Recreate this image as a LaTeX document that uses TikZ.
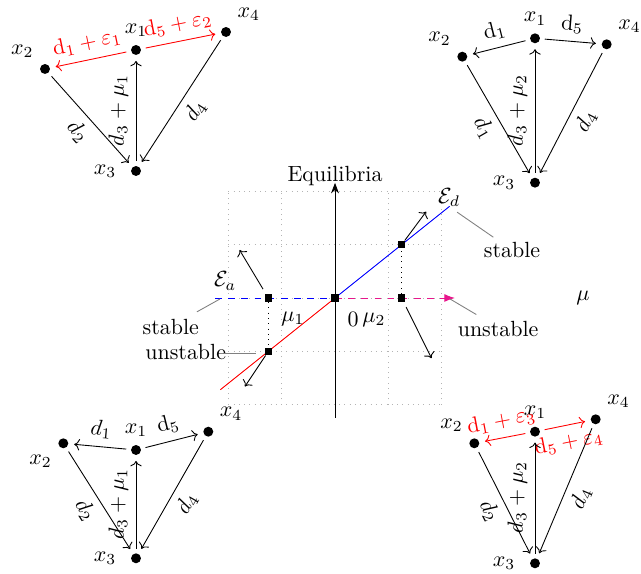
\documentclass[tikz,border=0pt]{standalone}
\usepackage{amsmath}
\usepackage{xcolor}
\usepackage{tikz}
\usetikzlibrary{arrows.meta}
\definecolor{pinkmag}{HTML}{E8168C}
\definecolor{gridgray}{HTML}{B4B4B4}
\definecolor{pingray}{HTML}{808080}

\begin{document}
\begin{tikzpicture}[x=1cm,y=1cm,
  dot/.style={circle,fill,inner sep=1.6pt},
  edge/.style={->,shorten >=2.5pt,shorten <=2pt},
  redge/.style={edge,red},
  sqmark/.style={rectangle,fill,inner sep=0pt,minimum size=3.4pt},
  pinline/.style={pingray},
  gridline/.style={gridgray,dotted},
  xthree/.style={label={[label distance=3pt]left:$x_3$}}]
  \useasboundingbox (0,0) rectangle (10.256,9.184);
  % upper left network
  \node[dot,label=above:$x_1$] (tl1) at (2.176,8.384) {};
  \node[dot,label=above left:$x_2$] (tl2) at (0.72,8.08) {};
  \node[dot,xthree] (tl3) at (2.176,6.448) {};
  \node[dot,label=above right:$x_4$] (tl4) at (3.616,8.672) {};
  \draw[redge] (tl1) -- node[sloped,above] {$\mathrm{d}_1+\varepsilon_1$} (tl2);
  \draw[redge] (tl1) -- node[sloped,above] {$\mathrm{d}_5+\varepsilon_2$} (tl4);
  \draw[edge] (tl2) -- node[sloped,below] {$d_2$} (tl3);
  \draw[edge] (tl3) -- node[sloped,above] {$d_3+\mu_1$} (tl1);
  \draw[edge] (tl4) -- node[sloped,below] {$d_4$} (tl3);
  % upper right network
  \node[dot,label=above:$x_1$] (tr1) at (8.56,8.571) {};
  \node[dot,label=above left:$x_2$] (tr2) at (7.397,8.277) {};
  \node[dot,xthree] (tr3) at (8.56,6.261) {};
  \node[dot,label=above right:$x_4$] (tr4) at (9.707,8.475) {};
  \draw[edge] (tr1) -- node[sloped,above] {$\mathrm{d}_1$} (tr2);
  \draw[edge] (tr1) -- node[sloped,above] {$\mathrm{d}_5$} (tr4);
  \draw[edge] (tr2) -- node[sloped,below] {$d_1$} (tr3);
  \draw[edge] (tr3) -- node[sloped,above] {$d_3+\mu_2$} (tr1);
  \draw[edge] (tr4) -- node[sloped,below] {$d_4$} (tr3);
  % lower left network
  \node[dot,label=above:$x_1$] (bl1) at (2.176,1.984) {};
  \node[dot,label=below left:$x_2$] (bl2) at (1.013,2.091) {};
  \node[dot,xthree] (bl3) at (2.176,0.251) {};
  \node[dot,label=above right:$x_4$] (bl4) at (3.333,2.277) {};
  \draw[edge] (bl1) -- node[sloped,above] {$d_1$} (bl2);
  \draw[edge] (bl1) -- node[sloped,above] {$\mathrm{d}_5$} (bl4);
  \draw[edge] (bl2) -- node[sloped,below] {$d_2$} (bl3);
  \draw[edge] (bl3) -- node[sloped,above] {$d_3+\mu_1$} (bl1);
  \draw[edge] (bl4) -- node[sloped,below] {$d_4$} (bl3);
  % lower right network
  \node[dot,label=above:$x_1$] (br1) at (8.56,2.277) {};
  \node[dot,label=above left:$x_2$] (br2) at (7.589,2.091) {};
  \node[dot,xthree] (br3) at (8.56,0.171) {};
  \node[dot,label=above right:$x_4$] (br4) at (9.531,2.475) {};
  \draw[redge] (br1) -- node[sloped,above] {$\mathrm{d}_1+\varepsilon_3$} (br2);
  \draw[redge] (br1) -- node[sloped,below] {$\mathrm{d}_5+\varepsilon_4$} (br4);
  \draw[edge] (br2) -- node[sloped,below] {$d_2$} (br3);
  \draw[edge] (br3) -- node[sloped,above] {$d_3+\mu_2$} (br1);
  \draw[edge] (br4) -- node[sloped,below] {$d_4$} (br3);
  % bifurcation diagram
  \begin{scope}[shift={(5.36,4.416)},x=0.853cm,y=0.853cm]
    \foreach \g in {-2,...,2}{
      \draw[gridline] (\g,-2) -- (\g,2);
      \draw[gridline] (-2,\g) -- (2,\g);}
    \draw[-{Stealth}] (0,-2.25) -- (0,2.16);
    \node (eqlab) at (0,2.29) {Equilibria};
    \draw[blue,dashed] (-2.25,0) -- (0,0);
    \draw[pinkmag,dashed,-{Latex}] (0,0) -- (2.25,0);
    \draw[red] (-2.15,-1.72) -- (0,0);
    \draw[blue] (0,0) -- (2.15,1.72);
    \node[sqmark] (m0) at (0,0) {};
    \node[sqmark] (ma) at (-1.25,0) {};
    \node[sqmark] (mb) at (-1.25,-1) {};
    \node[sqmark] (mc) at (1.25,1) {};
    \node[sqmark] (md) at (1.25,0) {};
    \draw[dotted] (ma) -- (mb);
    \draw[dotted] (md) -- (mc);
    \coordinate (ta) at (-1.79,0.9);
    \coordinate (tb) at (-1.69,-1.66);
    \coordinate (tc) at (1.71,1.62);
    \coordinate (td) at (1.81,-1.13);
    \draw[->,shorten <=2.5pt] (ma) -- (ta);
    \draw[->] (mb) -- (tb);
    \draw[->] (mc) -- (tc);
    \draw[->,shorten <=2.5pt] (md) -- (td);
    \node (ea) at (-2.06,0.32) {$\mathcal{E}_a$};
    \node (ed) at (2.14,1.89) {$\mathcal{E}_d$};
    \node (stl) at (-3.08,-0.54) {stable};
    \node (ustl) at (-2.80,-1.01) {unstable};
    \node (str) at (3.32,0.90) {stable};
    \node (ustr) at (3.06,-0.58) {unstable};
    \node (mulab) at (4.65,0) {$\mu$};
    \node (mu1) at (-0.79,-0.39) {$\mu_1$};
    \node (zero) at (0.34,-0.41) {$0$};
    \node (mu2) at (0.73,-0.41) {$\mu_2$};
    \coordinate (pa) at (-2.59,-0.26);
    \coordinate (qa) at (-2.16,-0.02);
    \coordinate (pb) at (-2.08,-1.04);
    \coordinate (qb) at (-1.48,-1.04);
    \coordinate (pc) at (2.97,1.14);
    \coordinate (qc) at (2.29,1.61);
    \coordinate (pd) at (2.65,-0.31);
    \coordinate (qd) at (2.16,-0.02);
    \draw[pinline] (pa) -- (qa);
    \draw[pinline] (pb) -- (qb);
    \draw[pinline] (pc) -- (qc);
    \draw[pinline] (pd) -- (qd);
  \end{scope}
\end{tikzpicture}
\end{document}
